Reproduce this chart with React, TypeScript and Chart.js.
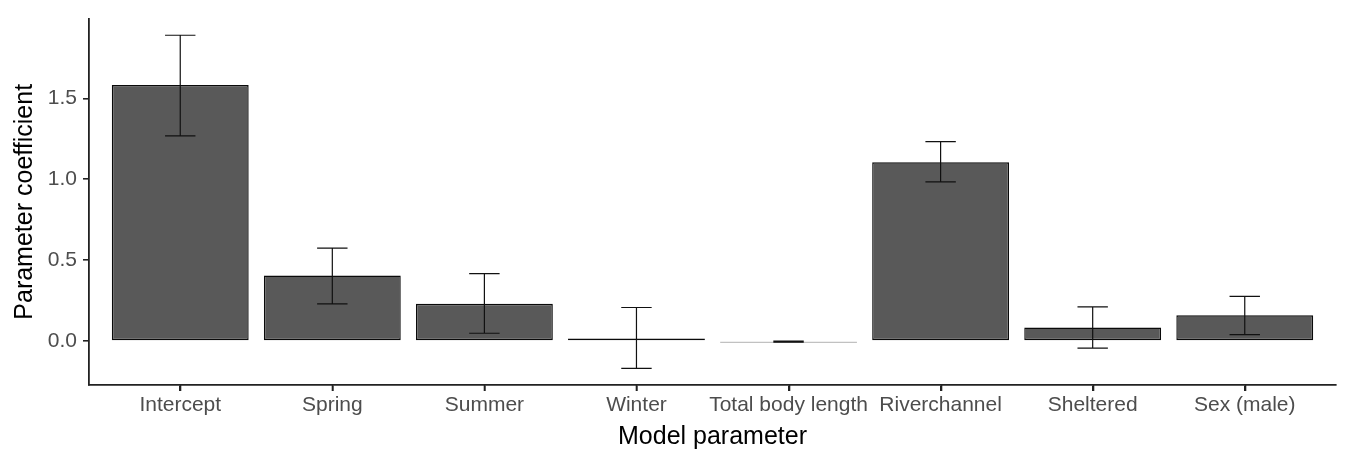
import { useEffect, useRef } from 'react';
import { Chart, registerables } from 'chart.js';

Chart.register(...registerables);

const categories = ['Intercept', 'Spring', 'Summer', 'Winter', 'Total body length', 'Riverchannel', 'Sheltered', 'Sex (male)'];
const coefficients = [1.582, 0.405, 0.23, 0.016, -0.004, 1.105, 0.083, 0.159];
const lowerCI = [1.268, 0.23, 0.048, -0.169, -0.007, 0.984, -0.044, 0.04];
const upperCI = [1.89, 0.574, 0.417, 0.207, 0.0, 1.232, 0.211, 0.276];
const yTicks = [0, 0.5, 1.0, 1.5];

const FONT = '"Liberation Sans", Arial, Helvetica, sans-serif';
const AXIS_COLOR = '#222222';

const errorBarPlugin = {
  id: 'errorBars',
  afterDatasetsDraw(chart: any) {
    const { ctx, scales } = chart;
    const xs = scales.x;
    const ys = scales.y;
    const half = (xs.getPixelForValue(0.1) - xs.getPixelForValue(0));
    ctx.save();
    ctx.strokeStyle = '#111111';
    ctx.lineWidth = 1.2;
    categories.forEach((_, i) => {
      const x = xs.getPixelForValue(i);
      const yl = ys.getPixelForValue(lowerCI[i]);
      const yu = ys.getPixelForValue(upperCI[i]);
      ctx.beginPath();
      ctx.moveTo(x, yl);
      ctx.lineTo(x, yu);
      ctx.moveTo(x - half, yl);
      ctx.lineTo(x + half, yl);
      ctx.moveTo(x - half, yu);
      ctx.lineTo(x + half, yu);
      ctx.stroke();
    });
    ctx.restore();
  },
  afterDraw(chart: any) {
    // tick marks below the x axis, at each category position of the x scale
    const { ctx, scales } = chart;
    const xs = scales.x;
    ctx.save();
    ctx.strokeStyle = AXIS_COLOR;
    ctx.lineWidth = 1.6;
    ctx.beginPath();
    xs.ticks.forEach((t: any) => {
      const x = Math.round(xs.getPixelForValue(t.value)) + 0.5;
      ctx.moveTo(x, xs.top);
      ctx.lineTo(x, xs.top + 6);
    });
    ctx.stroke();
    ctx.restore();
  },
};

export default function App() {
  const ref = useRef<HTMLCanvasElement | null>(null);

  useEffect(() => {
    document.body.style.margin = '0';
    const canvas = ref.current;
    if (!canvas) return;
    const chart = new Chart(canvas, {
      type: 'bar',
      data: {
        datasets: [
          {
            data: categories.map((_, i) => ({ x: i, y: coefficients[i] })),
            backgroundColor: '#595959',
            borderColor: '#0a0a0a',
            borderWidth: 1.4,
            borderSkipped: false,
            minBarLength: 1.6,
            categoryPercentage: 0.9,
            barPercentage: 1,
          },
        ],
      },
      options: {
        animation: false,
        responsive: false,
        layout: { padding: { top: 10, right: 10, left: 0, bottom: 0 } },
        plugins: {
          legend: { display: false },
          tooltip: { enabled: false },
        },
        scales: {
          x: {
            type: 'linear',
            offset: false,
            min: -0.6,
            max: categories.length - 1 + 0.6,
            afterBuildTicks: (scale: any) => {
              scale.ticks = categories.map((_, i) => ({ value: i }));
            },
            afterFit: (scale: any) => {
              scale.height = 70;
            },
            ticks: {
              autoSkip: false,
              maxRotation: 0,
              minRotation: 0,
              padding: 2,
              color: '#4d4d4d',
              font: { family: FONT, size: 21 },
              callback: (v: any) => categories[Number(v)] ?? '',
            },
            grid: {
              offset: false,
              drawOnChartArea: false,
              drawTicks: true,
              tickLength: 6,
              color: AXIS_COLOR,
              lineWidth: 1.6,
            },
            border: { display: true, color: AXIS_COLOR, width: 1.8 },
            title: {
              display: true,
              text: 'Model parameter',
              color: '#000000',
              font: { family: FONT, size: 25, lineHeight: 1.2 },
              padding: { top: 0, bottom: 3 },
            },
          },
          y: {
            type: 'linear',
            min: -0.272,
            max: 1.993,
            afterBuildTicks: (scale: any) => {
              scale.ticks = yTicks.map((v) => ({ value: v }));
            },
            afterFit: (scale: any) => {
              scale.width = 89;
            },
            ticks: {
              padding: 6,
              color: '#4d4d4d',
              font: { family: FONT, size: 21 },
              callback: (v: any) => Number(v).toFixed(1),
            },
            grid: {
              drawOnChartArea: false,
              drawTicks: true,
              tickLength: 6,
              color: AXIS_COLOR,
              lineWidth: 1.6,
            },
            border: { display: true, color: AXIS_COLOR, width: 1.8 },
            title: {
              display: true,
              text: 'Parameter coefficient',
              color: '#000000',
              font: { family: FONT, size: 25, lineHeight: 1.2 },
              padding: { top: 10, bottom: 0 },
            },
          },
        },
      },
      plugins: [errorBarPlugin],
    } as any);
    return () => chart.destroy();
  }, []);

  return <canvas ref={ref} width={1346} height={455} style={{ display: 'block' }} />;
}
